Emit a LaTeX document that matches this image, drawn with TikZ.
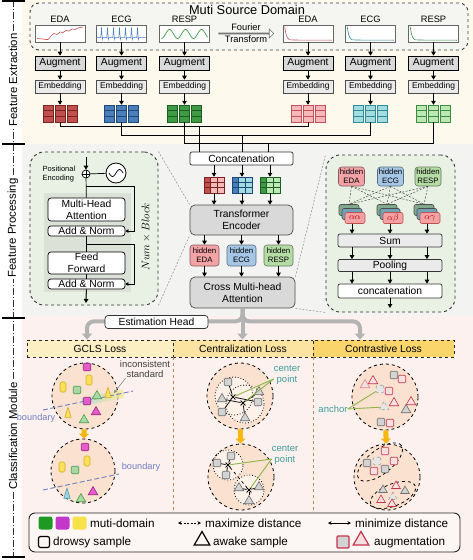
\documentclass[tikz,border=0pt]{standalone}
\usepackage{fontspec}
\setmainfont{Liberation Sans}
\usetikzlibrary{arrows.meta,positioning,shapes.geometric,shapes.arrows,shapes.misc,calc}

\definecolor{bgtop}{HTML}{FDF9EC}
\definecolor{bgmid}{HTML}{F3F4F1}
\definecolor{bgbot}{HTML}{FDF1EF}
\definecolor{srcfill}{HTML}{F5F5F2}
\definecolor{boxgray}{HTML}{D9D9D9}
\definecolor{boxlight}{HTML}{EBEBEB}
\definecolor{edaD}{HTML}{C0504D}
\definecolor{edaB}{HTML}{7A2422}
\definecolor{ecgD}{HTML}{4A7EBB}
\definecolor{ecgB}{HTML}{1F4A78}
\definecolor{respD}{HTML}{3F9A45}
\definecolor{respB}{HTML}{1D5E22}
\definecolor{edaL}{HTML}{F5B9B9}
\definecolor{edaLB}{HTML}{C24F5A}
\definecolor{ecgL}{HTML}{A3DCE0}
\definecolor{ecgLB}{HTML}{2F8C96}
\definecolor{respL}{HTML}{BCE8B3}
\definecolor{respLB}{HTML}{3B8C42}
\definecolor{hEDA}{HTML}{F3A3A6}
\definecolor{hECG}{HTML}{A6C6E6}
\definecolor{hRESP}{HTML}{B5DCA5}
\definecolor{stkG}{HTML}{7FA98A}
\definecolor{stkB}{HTML}{6FA3B5}
\definecolor{panel}{HTML}{E9F1E4}
\definecolor{panelin}{HTML}{DCE1D8}
\definecolor{lossA}{HTML}{FCEFC3}
\definecolor{lossB}{HTML}{FBE3A2}
\definecolor{lossC}{HTML}{F9D56C}
\definecolor{peach}{HTML}{FBE1CF}
\definecolor{mag}{HTML}{E25DC8}
\definecolor{magB}{HTML}{A3238C}
\definecolor{yel}{HTML}{F9DF5A}
\definecolor{yelB}{HTML}{D2B020}
\definecolor{grn}{HTML}{A9D9A2}
\definecolor{grnB}{HTML}{4E9E55}
\definecolor{cyn}{HTML}{9ED3DC}
\definecolor{cynB}{HTML}{4A9AAA}
\definecolor{smpl}{HTML}{D3D3D3}
\definecolor{smplB}{HTML}{6E6E6E}
\definecolor{augR}{HTML}{F6E0E2}
\definecolor{augRB}{HTML}{C8344C}
\definecolor{anc}{HTML}{E6E6E6}
\definecolor{ancB}{HTML}{A0A0A0}
\definecolor{teal}{HTML}{3E9C9A}
\definecolor{olive}{HTML}{8CB54A}
\definecolor{bnd}{HTML}{6F7FC0}
\definecolor{yarrow}{HTML}{F6B70F}
\definecolor{garrow}{HTML}{B3B3B3}
\definecolor{sepc}{HTML}{C08A50}
\definecolor{legfill}{HTML}{FCF6F4}
\definecolor{lgG}{HTML}{1E9A24}
\definecolor{lgM}{HTML}{C337C9}
\definecolor{lgY}{HTML}{F7E24A}

\newcommand{\fsz}[2]{\fontsize{#1}{#2}\selectfont}

\begin{document}
\begin{tikzpicture}
[   x=1pt, y=-1pt,
    every node/.style={inner sep=0pt, font=\fsz{10.3}{12}},
    sig/.style={draw=black!60, fill=white, line width=0.6, minimum width=50, minimum height=17},
    aug/.style={draw=black, fill=boxgray, line width=0.7, minimum width=50, minimum height=14},
    emb/.style={draw=black!70, fill=boxlight, line width=0.6, minimum width=50, minimum height=13, font=\fsz{8.5}{10}},
    arr/.style={line width=1, -{Triangle[length=4pt,width=4.5pt]}},
    ln/.style={line width=0.7},
    gbox/.style={draw=black!70, fill=boxgray, line width=0.7, rounded corners=5, align=center},
    wbox/.style={draw=black!80, fill=white, line width=0.7, rounded corners=2},
    tbox/.style={draw=black, fill=white, line width=0.7, rounded corners=3, minimum width=77, align=center},
    hid/.style={draw=#1!55!black, fill=#1, line width=0.6, rounded corners=3, minimum width=29, minimum height=21, align=center, font=\fsz{7.8}{9}},
    stk/.style={draw=black!70, fill=#1, line width=0.6, rounded corners=2, minimum width=20, minimum height=11},
    panelbox/.style={draw=black!80, dashed, line width=0.9, rounded corners=14, fill=panel},
    zoomline/.style={black!45, line width=0.5, dash pattern=on 2pt off 1.5pt},
    crossl/.style={black!70, line width=0.5, dash pattern=on 2pt off 1.5pt},
    loss/.style={draw=black!85, dashed, line width=0.8, fill=#1, minimum height=17},
    garr/.style={garrow, line width=4, rounded corners=7, -{Triangle[length=6pt,width=10pt]}},
    yarr/.style={yarrow, line width=5, -{Triangle[length=5pt,width=10pt]}},
    sepl/.style={sepc, dashed, line width=0.6},
    blob/.style={circle, draw=black, dashed, line width=0.8, fill=peach, minimum size=#1},
    dcirc/.style={circle, draw=black, dotted, line width=0.8, minimum size=#1},
    sq/.style={draw=#1B, fill=#1, line width=0.6, rounded corners=1, minimum size=7.5},
    rr/.style={draw=#1B, fill=#1, line width=0.6, rounded corners=1.5, minimum width=6, minimum height=10},
    tri/.style={regular polygon, regular polygon sides=3, draw=#1B, fill=#1, line width=0.6, minimum size=11},
    ntri/.style={isosceles triangle, isosceles triangle apex angle=35, shape border rotate=90, draw=#1B, fill=#1, line width=0.6, minimum height=10},
    xm/.style={cross out, draw=black, line width=0.8, minimum size=4},
    bline/.style={bnd, line width=0.9, dash pattern=on 5pt off 2.5pt},
    olv/.style={olive, line width=0.9},
    note/.style={font=\fsz{9.5}{10.5}, align=center},
    legt/.style={font=\fsz{11.7}{13}, anchor=west},
]
\useasboundingbox (0,0) rectangle (473,560);
\fill[white] (0,0) rectangle (473,560);
\fill[bgtop] (22,0) rectangle (473,144);
\fill[bgmid] (22,144) rectangle (473,316);
\fill[bgbot] (22,316) rectangle (473,560);

% side axis
\draw[black!80, line width=0.8, dash pattern=on 7pt off 2pt on 1pt off 2pt] (13,0) -- (13,557);
\foreach \y in {1,144,318,557}
{   \draw[line width=1.4] (2,\y) -- (25,\y);
}
\foreach \n/\y/\t in {fe/80/Feature Extraction, fp/228/Feature Processing, cm/436/Classification Module}
{   \node[rotate=90, fill=white, inner sep=1.5pt, font=\fsz{11.4}{13}] (ax\n) at (13,\y) {\t};
}

% multi-source inputs
\node[draw=black!75, dashed, line width=0.9, rounded corners=9, fill=srcfill, minimum width=438, minimum height=47] (src) at (249,26.5) {};
\node[font=\fsz{12.8}{14}] (srct) at (247,10) {Muti Source Domain};
\node[single arrow, draw=black!55, fill=white, line width=0.6, minimum height=55, minimum width=9, single arrow head extend=2.5pt] (ft) at (246,33.5) {};
\node[font=\fsz{9.3}{11}, above=1.5pt of ft] (ftu) {Fourier};
\node[font=\fsz{9.3}{11}, below=1.5pt of ft] (ftd) {Transform};

\foreach \n/\x/\t in {1/60/EDA, 2/121.5/ECG, 3/184.5/RESP, 4/308/EDA, 5/370.5/ECG, 6/433.5/RESP}
{   \node[sig] (s\n) at (\x,33.5) {};
    \node[font=\fsz{9.3}{11}, above=1.8pt of s\n] (sl\n) {\t};
    \node[aug] (a\n) at (\x,63) {Augment};
    \node[emb] (e\n) at (\x,86.5) {Embedding};
    \draw[arr] (s\n) -- (a\n);
    \draw[arr] (a\n) -- (e\n);
}

% raw signals and spectra
\draw[edaD, line width=0.6] plot[smooth] coordinates {(37,38.5) (43,39) (48,39.5) (51,36) (54,33.5) (57,34.5) (60,32) (63,32.5) (66,30.5) (69,31) (72,29) (75,29.5) (78,28) (83,27)};
\draw[ecgD, line width=0.5] (s2.west |- 0,37.5) -- ++(2,0) \foreach \k in {1,...,7} { -- ++(2.6,0) -- ++(0.7,-10) -- ++(0.8,12) -- ++(0.6,-2) -- ++(1.3,0) } -- ([xshift=-1pt]s2.east |- 0,37.5);
\draw[respD, line width=0.7, domain=0:46, samples=70, smooth] plot ({161.5+\x}, {34+4.5*cos(\x*22.5)});
\foreach \n/\c in {4/edaLB, 5/ecgLB, 6/respLB}
{   \draw[\c, line width=0.6, shift={(s\n.north west)}] plot[smooth] coordinates {(2,2) (3.5,10) (6,14.5) (12,15.3) (49,15.5)};
}

% token grids
\foreach \n/\x/\f/\d in {1/60/edaD/edaB, 2/121.5/ecgD/ecgB, 3/184.5/respD/respB, 4/308/edaL/edaLB, 5/370.5/ecgL/ecgLB, 6/433.5/respL/respLB}
{   \node[minimum width=34, minimum height=17] (g\n) at (\x,113.5) {};
    \foreach \k in {-1,0,1}
    {   \foreach \r in {0,1,2}
        {   \draw[draw=\d, fill=\f, line width=0.5] (\x+\k*12-5,105+\r*5.667) rectangle ++(10,5.667);
        }
    }
    \draw[arr] (e\n) -- (g\n);
}

% feature processing
\node[wbox, minimum width=103, minimum height=13] (cat) at (241.5,158.5) {Concatenation};
\foreach \i/\j/\y/\xin in {1/4/126/199, 2/5/135/242, 3/6/143.5/268}
{   \draw[ln] (g\i.south) |- (g\j.south |- 0,\y) -- (g\j.south);
    \coordinate (j\i) at (\xin,\y);
    \draw[ln] (j\i) -- (j\i |- cat.north);
}
\node[gbox, minimum width=103, minimum height=30] (trf) at (241.5,220) {Transformer\\Encoder};
\node[gbox, minimum width=105, minimum height=31] (xatt) at (242.5,292.5) {Cross Multi-head\\Attention};
\foreach \n/\x/\f/\l/\d in {1/214/edaD/edaL/edaB, 2/242/ecgD/ecgL/ecgB, 3/270/respD/respL/respB}
{   \node[minimum width=20, minimum height=16] (c\n) at (\x,185) {};
    \foreach \r in {0,1,2}
    {   \draw[draw=\d, fill=\f, line width=0.5] (\x-10,177+\r*5.333) rectangle ++(6.7,5.333);
        \draw[draw=\d, fill=\l, line width=0.5] (\x-3.3,177+\r*5.333) rectangle ++(13.3,5.333);
        \draw[draw=\d, line width=0.5] (\x+3.35,177+\r*5.333) -- ++(0,5.333);
    }
    \draw[arr] (cat.south -| c\n) -- (c\n);
    \draw[arr] (c\n) -- (c\n |- trf.north);
}
\foreach \n/\x/\t/\c in {1/204.5/EDA/hEDA, 2/241.5/ECG/hECG, 3/278.5/RESP/hRESP}
{   \node[hid=\c] (h\n) at (\x,255.5) {hidden\\\t};
    \draw[arr] (trf.south -| h\n) -- (h\n);
    \draw[arr] (h\n) -- (h\n |- xatt.north);
}

% encoder block detail
\node[panelbox, minimum width=128, minimum height=153] (lp) at (94,228.5) {};
\fill[panelin] (44,193) rectangle (131,292);
\node[tbox, minimum height=23] (mha) at (86.5,209.5) {Multi-Head\\Attention};
\node[tbox, minimum height=10] (an1) at (86.5,231) {Add \& Norm};
\node[tbox, minimum height=22] (ff) at (86.5,263) {Feed\\Forward};
\node[tbox, minimum height=10] (an2) at (86.5,284) {Add \& Norm};
\node[circle, draw, fill=white, line width=0.7, minimum size=8] (pls) at (86,174) {};
\draw[ln] (pls.north) -- (pls.south) (pls.west) -- (pls.east);
\node[circle, draw, fill=white, line width=0.8, minimum size=20] (sinc) at (116,173) {};
\draw[ln, domain=-7:7, samples=30, smooth] plot ({116+\x}, {173-3.5*sin(\x*360/14)});
\node[font=\fsz{7.5}{9}, align=left] (pe) at (59,174) {Positional\\Encoding};
\node[rotate=90, font=\fsz{11}{12}] (nb) at (146,237) {$Num\times Block$};
\coordinate (lin) at (86,157);
\coordinate (r1) at (86,186);
\coordinate (r2) at (86,244);
\coordinate (lout) at (86,303);
\draw[arr] (lin) -- (pls);
\draw[ln] (pls) -- (sinc);
\draw[ln] (pls) -- (mha);
\draw[ln] (an1) -- (ff);
\draw[ln] (ff) -- (an2);
\draw[ln, -{Triangle[length=3pt,width=3.5pt]}] (r1) -| ([xshift=9pt]an1.east) -- (an1.east);
\draw[ln, -{Triangle[length=3pt,width=3.5pt]}] (r2) -| ([xshift=9pt]an2.east) -- (an2.east);
\draw[arr] (an2) -- (lout);
\draw[zoomline] (lp.north east) -- (trf.north west);
\draw[zoomline] (lp.south east) -- (trf.south west);

% cross attention detail
\node[panelbox, minimum width=129, minimum height=157] (rp) at (390.5,233.5) {};
\node[wbox, fill=boxlight, minimum width=104, minimum height=13] (sum) at (390,240.5) {Sum};
\node[wbox, fill=boxlight, minimum width=104, minimum height=12] (pool) at (390,265.5) {Pooling};
\node[wbox, minimum width=104, minimum height=14] (rcat) at (390,291) {concatenation};
\foreach \n/\x/\t/\c in {1/351.5/EDA/hEDA, 2/390.5/ECG/hECG, 3/428/RESP/hRESP}
{   \node[hid=\c, minimum width=26, minimum height=19] (rh\n) at (\x,176.5) {hidden\\\t};
}
\foreach \n/\x/\t in {1/355/\alpha\alpha, 2/393/\alpha\beta, 3/430/\alpha\gamma}
{   \node[stk=stkG] (sb\n) at (\x-6,210) {};
    \node[stk=stkB] (sm\n) at (\x-3,214) {};
    \node[stk=hEDA, draw=edaD, text=red!75!black, font=\fsz{9.5}{10}] (sf\n) at (\x,218) {$\t$};
    \draw[arr] (sf\n.south -| sm\n) -- (sm\n |- sum.north);
}
\foreach \i in {1,2,3}
{   \foreach \j in {1,2,3}
    {   \draw[crossl] (rh\i.south) -- (sb\j.north);
    }
}
\foreach \x in {352,390,427}
{   \draw[arr] (sum.south -| \x,0) -- (pool.north -| \x,0);
    \draw[arr] (pool.south -| \x,0) -- (rcat.north -| \x,0);
}
\coordinate (rout) at (390,308);
\draw[arr] (rcat) -- (rout);
\draw[zoomline] (xatt.north east) -- (rp.north west);
\draw[zoomline] (xatt.south east) -- (rp.south west);

% classification module
\node[draw=black!85, line width=0.9, rounded corners=6, fill=legfill, minimum width=431, minimum height=39] (leg) at (244.5,532.5) {};
\node[loss=lossA, minimum width=146] (gl) at (100,348.5) {GCLS Loss};
\node[loss=lossB, minimum width=140] (cl) at (243,348.5) {Centralization Loss};
\node[loss=lossC, minimum width=141] (kl) at (383.5,348.5) {Contrastive Loss};
\draw[sepl] (gl.south east) -- (gl.south east |- leg.north);
\draw[sepl] (cl.south east) -- (cl.south east |- leg.north);
\draw[garr] (xatt.south) -- (xatt.south |- cl.north);
\draw[garr] (xatt.south) -- ++(0,13) -| ([xshift=-13pt]gl.north);
\draw[garr] (xatt.south) -- ++(0,13) -| ([xshift=-23.5pt]kl.north);
\node[wbox, rounded corners=3, minimum width=103, minimum height=13] (est) at (156.5,322) {Estimation Head};

% GCLS loss
\node[blob=66] (gc1) at (85,396) {};
\node[blob=64] (gc2) at (83,471) {};
\draw[yarr] (gc1) -- (gc2);
\shade[left color=cyn!80, middle color=white, right color=yel!70, opacity=0.8, rotate around={12:(102,398)}] (82,394) rectangle (124,402);
\coordinate (b1a) at (43,410);
\coordinate (b1b) at (133,391);
\draw[bline] (b1a) -- (b1b);
\node[font=\fsz{9.2}{10}, text=bnd] (bt1) at (36,418) {boundary};
\node[note, text=black!75] (inc) at (145,369) {inconsistent\\standard};
\coordinate (incp) at (114,393);
\draw[black!45, line width=0.6, -{Triangle[length=3pt,width=3pt]}] ([xshift=6pt]inc.south west) -- (incp);
\node[sq=mag] (gm1) at (87,367) {};
\node[rr=yel] (gy1) at (63,387) {};
\node[rr=yel] (gy2) at (89,380) {};
\node[sq=grn] (gq1) at (77,390) {};
\node[sq=mag] (gm2) at (87,401) {};
\node[tri=grn] (gt1) at (97,396) {};
\node[ntri=yel] (gt2) at (108,395) {};
\node[ntri=yel] (gt3) at (68,415) {};
\node[tri=mag] (gt4) at (96,412) {};
\node[tri=grn] (gt5) at (84,420) {};
\coordinate (b2a) at (43,490);
\coordinate (b2b) at (119,474);
\draw[bline] (b2a) -- (b2b);
\node[font=\fsz{9.2}{10}, text=bnd] (bt2) at (141,467) {boundary};
\node[sq=mag] (gm3) at (85,447) {};
\node[rr=yel] (gy3) at (62,467) {};
\node[rr=yel] (gy4) at (87,461) {};
\node[sq=grn] (gq2) at (75,470) {};
\node[ntri=cyn] (gt6) at (67,496) {};
\node[tri=grn] (gt7) at (81,499) {};
\node[tri=mag] (gt8) at (93,492) {};

% centralization loss
\node[blob=66] (cc1) at (240,396) {};
\node[blob=66] (cc2) at (241,477) {};
\draw[yarr] (cc1) -- (cc2);
\fill[white!55!peach] (234,396) circle (19) (245,404) circle (19);
\node[dcirc=38] (cd1) at (234,396) {};
\node[dcirc=38] (cd2) at (245,404) {};
\node[xm] (x1) at (233,397) {};
\node[xm] (x2) at (243,403) {};
\foreach \n/\a/\b in {1/228/382, 2/258/402, 3/222/412}
{   \node[sq=smpl] (cs\n) at (\a,\b) {};
    \draw[ln] (x1) -- (cs\n);
}
\foreach \n/\a/\b in {1/222/399, 2/259/392, 3/245/418}
{   \node[tri=smpl] (ct\n) at (\a,\b) {};
    \draw[ln] (x2) -- (ct\n);
}
\node[note, text=teal] (cp1) at (287,375) {center\\point};
\draw[olv] ([yshift=-4pt]cp1.west) -- (x1);
\draw[olv] ([yshift=-4pt]cp1.west) -- (x2);
\node[dcirc=30, fill=white!55!peach] (cd3) at (228,465) {};
\node[dcirc=30, fill=white!55!peach] (cd4) at (249,490) {};
\node[xm] (x3) at (228,465) {};
\node[xm] (x4) at (249,490) {};
\draw[ln, dashed] (x3) -- (x4);
\foreach \n/\a/\b in {4/217/463, 5/231/456, 6/226/475}
{   \node[sq=smpl] (cs\n) at (\a,\b) {};
    \draw[ln] (x3) -- (cs\n);
}
\foreach \n/\a/\b in {4/239/488, 5/259/487, 6/249/501}
{   \node[tri=smpl] (ct\n) at (\a,\b) {};
    \draw[ln] (x4) -- (ct\n);
}
\node[note, text=teal] (cp2) at (285,455) {center\\point};
\draw[olv] ([yshift=-4pt]cp2.west) -- (x3);
\draw[olv] ([yshift=-4pt]cp2.west) -- (x4);

% contrastive loss
\node[blob=66] (kc1) at (385,397) {};
\node[blob=66] (kc2) at (387,477) {};
\draw[yarr] (kc1) -- (kc2);
\node[sq=smpl] (ks1) at (394,375) {};
\node[sq=augR] (ks2) at (402,379) {};
\node[sq=augR] (ks3) at (389,391) {};
\node[sq=smpl] (ks4) at (381,422) {};
\node[sq=augR] (ks5) at (390,423) {};
\node[tri=augR, draw=augRB!60] (kt1) at (365,385) {};
\node[tri=augR] (kt2) at (373,381) {};
\node[tri=augR] (kt3) at (394,403) {};
\node[tri=augR] (kt4) at (411,402) {};
\node[tri=smpl] (kt5) at (406,410) {};
\node[sq=anc, dashed] (ka1) at (380,389) {};
\node[tri=anc, dashed] (ka2) at (384,407) {};
\node[note, text=teal] (anc) at (333,409) {anchor};
\draw[olv] (anc.east) -- (ka1);
\draw[olv] (anc.east) -- (ka2);
\node[ellipse, draw=black, dashed, line width=0.8, minimum width=54, minimum height=24, rotate=38] (el1) at (380,462) {};
\node[ellipse, draw=black, dashed, line width=0.8, minimum width=48, minimum height=22, rotate=22] (el2) at (393,495) {};
\node[sq=augR] (ks6) at (385,451) {};
\node[sq=augR] (ks7) at (394,461) {};
\node[sq=augR] (ks8) at (374,471) {};
\node[sq=smpl] (ks9) at (367,463) {};
\node[sq=smpl] (ks10) at (385,469) {};
\node[sq=anc, dashed] (ka3) at (377,461) {};
\node[tri=augR, minimum size=10] (kt6) at (396,486) {};
\node[tri=smpl, minimum size=10] (kt7) at (383,490) {};
\node[tri=smpl, minimum size=10] (kt8) at (405,491) {};
\node[tri=anc, dashed, minimum size=10] (ka4) at (393,497) {};
\node[tri=augR, minimum size=10] (kt9) at (381,500) {};
\node[tri=augR, minimum size=10] (kt10) at (392,504) {};

% legend
\foreach \n/\x/\c in {1/45.5/lgG, 2/62.5/lgM, 3/79.5/lgY}
{   \node[fill=\c, rounded corners=2.5, minimum width=14, minimum height=13] (lb\n) at (\x,523) {};
}
\node[legt] (lt1) at (90,523) {muti-domain};
\coordinate (mx1) at (178,523);
\coordinate (mx2) at (201,523);
\draw[line width=0.8, dash pattern=on 2pt off 1.5pt, {Stealth[length=3.5pt,width=3.5pt]}-{Stealth[length=3.5pt,width=3.5pt]}] (mx1) -- (mx2);
\node[legt] (lt2) at (205,523) {maximize distance};
\coordinate (mn1) at (328,523);
\coordinate (mn2) at (351,523);
\draw[line width=0.8, {Stealth[length=3.5pt,width=3.5pt]}-{Stealth[length=3.5pt,width=3.5pt]}] (mn1) -- (mn2);
\node[legt] (lt3) at (355,523) {minimize distance};
\node[draw=black, line width=1.2, rounded corners=2, minimum size=11] (lsq) at (44,542) {};
\node[legt] (lt4) at (53,542) {drowsy sample};
\node[regular polygon, regular polygon sides=3, draw=black, line width=1.2, minimum size=18] (ltr) at (202,540.5) {};
\node[legt] (lt5) at (213,542) {awake sample};
\node[sq=smpl, draw=augRB, line width=1.2, minimum size=12] (lasq) at (343,542) {};
\node[tri=augR, draw=augRB, line width=1.2, minimum size=18] (latr) at (361,540.5) {};
\node[legt] (lt6) at (374,542) {augmentation};
\end{tikzpicture}
\end{document}
